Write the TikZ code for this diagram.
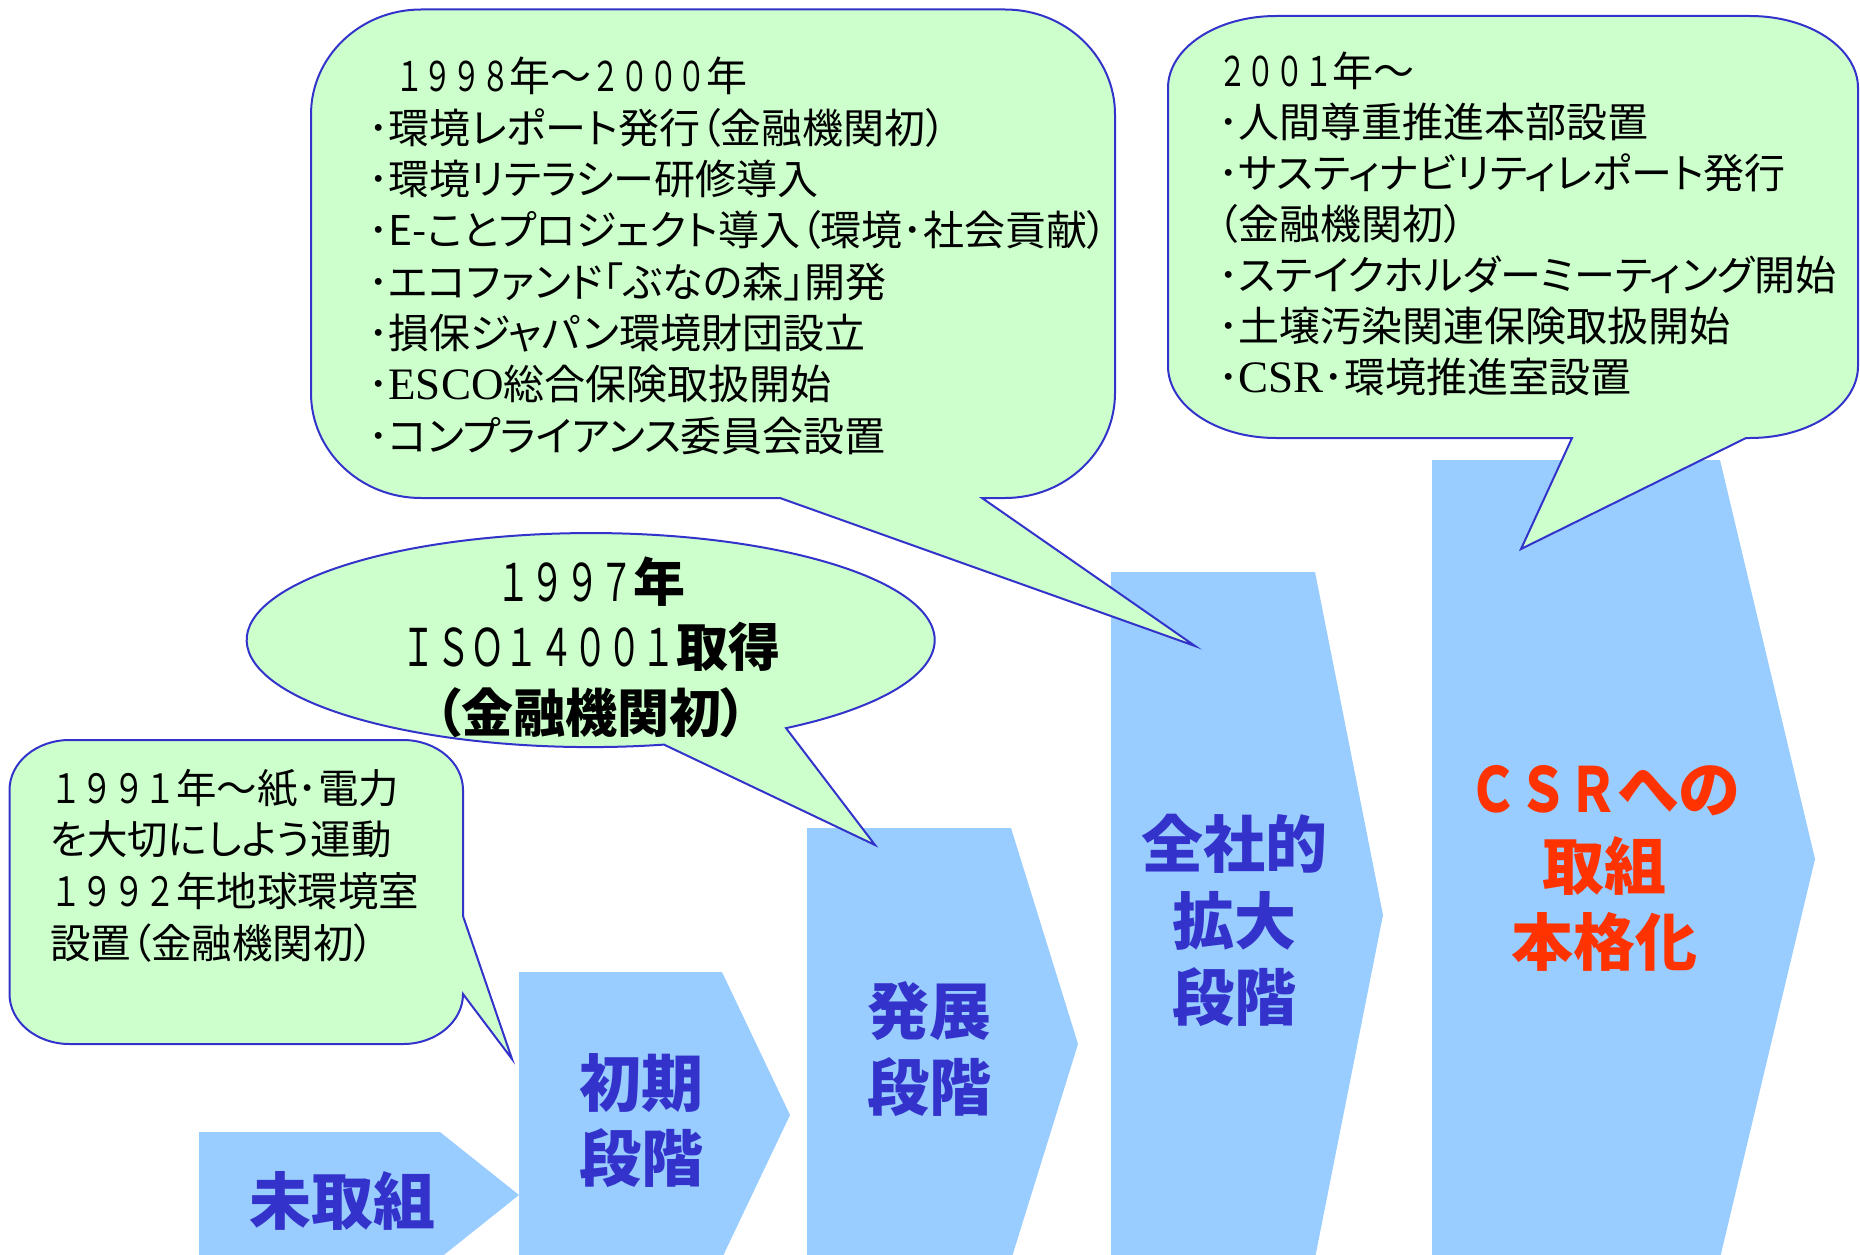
\documentclass[tikz,border=0pt]{standalone}
\usepackage{fontspec}
\usepackage{graphicx}
\newfontfamily\jp[RawFeature=+palt]{Noto Sans CJK JP}
\newfontfamily\jpm{Noto Sans CJK JP}
\newfontfamily\sr{Liberation Serif}
\definecolor{bubblefill}{HTML}{CCFFCC}
\definecolor{bubbleline}{HTML}{3333CC}
\definecolor{chevfill}{HTML}{99CCFF}
\definecolor{stagetext}{HTML}{3333CC}
\definecolor{csrred}{HTML}{FF3300}
\newcommand\dg[2][0.7]{{\jpm\mdseries\scalebox{#1}[1]{#2}}}
\newcommand\wv{{\jpm\mdseries ～}}
\begin{document}
\begin{tikzpicture}[x=1pt,y=-1pt,
  bubble/.style={fill=bubblefill, draw=bubbleline, line width=2pt, line join=miter},
  chev/.style={fill=chevfill, draw=none},
  txt/.style={anchor=base west, inner sep=0pt, outer sep=0pt, font=\jp\fontsize{41}{48}\selectfont},
  dtxt/.style={txt, font=\jp\fontsize{40.5}{48}\selectfont},
  ctxt/.style={anchor=base, inner sep=0pt, outer sep=0pt, font=\jp\bfseries\fontsize{52}{60}\selectfont},
  stage/.style={anchor=base, inner sep=0pt, outer sep=0pt, text=stagetext, font=\jp\bfseries\fontsize{62}{70}\selectfont},
  csr/.style={stage, text=csrred}
]
\useasboundingbox (0,0) rectangle (1860,1255);
\fill[white] (0,0) rectangle (1860,1255);

\begin{scope}
\clip (0,0) rectangle (1860,1255);
% chevrons
\fill[chev] (199,1132) -- (440,1132) -- (519,1195) -- (440,1258) -- (199,1258) -- cycle;
\fill[chev] (519,972) -- (722,972) -- (790,1115) -- (722,1258) -- (519,1258) -- cycle;
\fill[chev] (807,828) -- (1011,828) -- (1078,1044) -- (1011,1260) -- (807,1260) -- cycle;
\fill[chev] (1111,572) -- (1315,572) -- (1383,915) -- (1315,1258) -- (1111,1258) -- cycle;
\fill[chev] (1432,460) -- (1720,460) -- (1815,859) -- (1720,1258) -- (1432,1258) -- cycle;

% bubble A (1998-2000)
\draw[bubble] (780,498) -- (421,498)
  arc[start angle=90, end angle=180, x radius=110, y radius=105] -- (311,114.5)
  arc[start angle=180, end angle=270, x radius=110, y radius=105] -- (1005,9.5)
  arc[start angle=270, end angle=360, x radius=110, y radius=105] -- (1115,393)
  arc[start angle=0, end angle=90, x radius=110, y radius=105] -- (982,498)
  -- (1195,646) -- cycle;

% bubble B (2001-)
\draw[bubble] (1572,438) -- (1276,438)
  arc[start angle=90, end angle=180, x radius=108, y radius=72] -- (1168,88)
  arc[start angle=180, end angle=270, x radius=108, y radius=72] -- (1750,16)
  arc[start angle=270, end angle=360, x radius=108, y radius=72] -- (1858,366)
  arc[start angle=0, end angle=90, x radius=108, y radius=72] -- (1746,438)
  -- (1521,549) -- cycle;

% bubble C (1997, ellipse)
\draw[bubble] (664,744.6)
  arc[start angle=77.7, end angle=415.4, x radius=344, y radius=107]
  -- (875,845) -- cycle;

% bubble D (1991/1992)
\draw[bubble] (463,994)
  arc[start angle=0, end angle=90, x radius=60, y radius=50] -- (69.5,1044)
  arc[start angle=90, end angle=180, x radius=60, y radius=50] -- (9.5,790)
  arc[start angle=180, end angle=270, x radius=60, y radius=50] -- (403,740)
  arc[start angle=270, end angle=360, x radius=60, y radius=50] -- (463,916)
  -- (512,1059) -- cycle;
\end{scope}

% bubble A text
\node[txt] (a1) at (395,92) {\dg{１９９８}年\wv\dg{２０００}年};
\node[txt] (a2) at (368,143.3) {･環境レポート発行（金融機関初）};
\node[txt] (a3) at (368,194.6) {･環境リテラシー研修導入};
\node[txt] (a4) at (368,245.9) {･E-ことプロジェクト導入（環境･社会貢献）};
\node[txt] (a5) at (368,297.2) {･エコファンド｢ぶなの森｣開発};
\node[txt] (a6) at (368,348.5) {･損保ジャパン環境財団設立};
\node[txt] (a7) at (368,399.8) {･{\sr\fontsize{45}{48}\selectfont ESCO}総合保険取扱開始};
\node[txt] (a8) at (368,451.1) {･コンプライアンス委員会設置};

% bubble B text
\node[txt] (b1) at (1218,86) {\dg{２００１}年\wv};
\node[txt] (b2) at (1218,137) {･人間尊重推進本部設置};
\node[txt] (b3) at (1218,188) {･サスティナビリティレポート発行};
\node[txt] (b4) at (1218,239) {（金融機関初）};
\node[txt] (b5) at (1218,290) {･ステイクホルダーミーティング開始};
\node[txt] (b6) at (1218,341) {･土壌汚染関連保険取扱開始};
\node[txt] (b7) at (1218,392) {･{\sr\fontsize{45}{48}\selectfont CSR}･環境推進室設置};

% bubble C text
\node[ctxt] (c1) at (591,601) {\dg[0.66]{１９９７}年};
\node[ctxt] (c2) at (591,666) {\dg[0.66]{ＩＳＯ１４００１}取得};
\node[ctxt] (c3) at (591,732) {（金融機関初）};

% bubble D text
\node[dtxt] (d1) at (50,803) {\dg[0.78]{１９９１}年\wv 紙･電力};
\node[dtxt] (d2) at (50,854.7) {を大切にしよう運動};
\node[dtxt] (d3) at (50,906.4) {\dg[0.78]{１９９２}年地球環境室};
\node[dtxt] (d4) at (50,958.1) {設置（金融機関初）};

% stage labels
\node[stage] (s1) at (342,1224) {未取組};
\node[stage] (s2a) at (641,1106) {初期};
\node[stage] (s2b) at (641,1181) {段階};
\node[stage] (s3a) at (929,1034) {発展};
\node[stage] (s3b) at (929,1110) {段階};
\node[stage] (s4a) at (1234,867) {全社的};
\node[stage] (s4b) at (1234,944) {拡大};
\node[stage] (s4c) at (1234,1020) {段階};
\node[csr] (s5a) at (1604,812) {{\jpm\scalebox{0.8}[1]{ＣＳＲ}}への};
\node[csr] (s5b) at (1604,889) {取組};
\node[csr] (s5c) at (1604,965) {本格化};
\end{tikzpicture}
\end{document}
